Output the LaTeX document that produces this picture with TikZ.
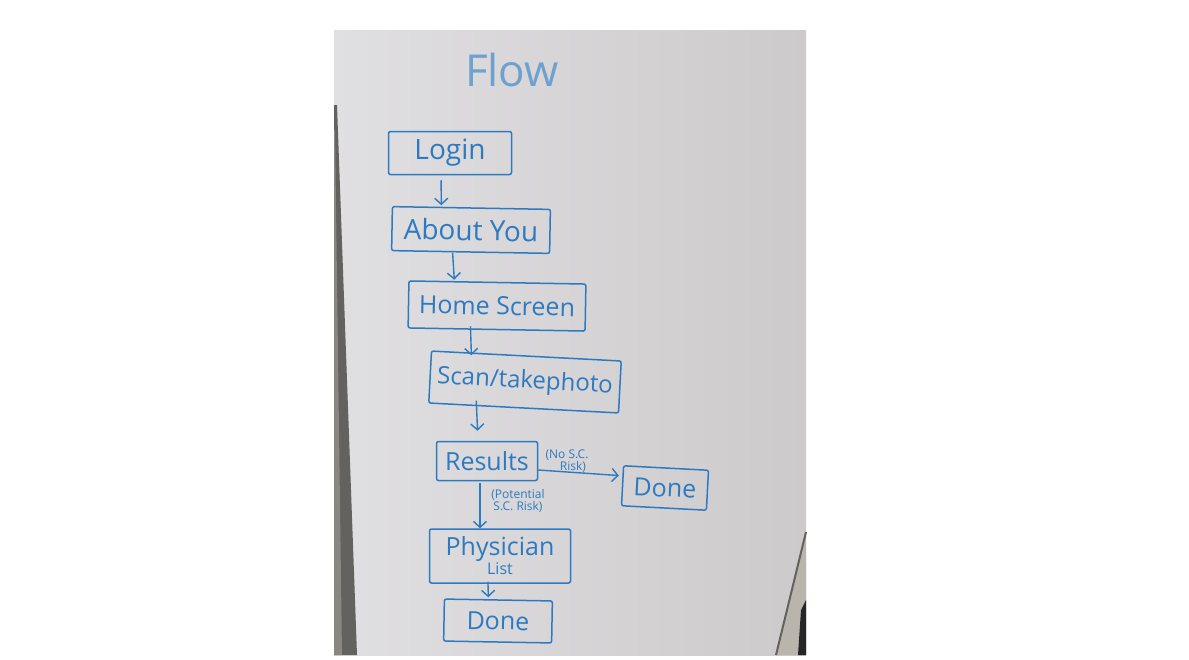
\documentclass[tikz,border=0pt]{standalone}
\usepackage{fontspec}
\setmainfont{Open Sans}
\usetikzlibrary{arrows.meta,calc}
\definecolor{marker}{RGB}{45,122,192}
\definecolor{markerlight}{RGB}{110,160,208}
\definecolor{boardL}{RGB}{224,223,225}
\definecolor{boardM}{RGB}{231,230,232}
\definecolor{boardR}{RGB}{205,202,203}
\definecolor{frameD}{RGB}{100,98,95}
\definecolor{frameM}{RGB}{138,135,131}
\definecolor{frameL}{RGB}{186,181,172}
\tikzset{
  stepbox/.style={draw=marker, line width=1.5pt, rounded corners=2pt,
    text=marker, font=\fontsize{25}{27}\selectfont, inner sep=2pt, align=center},
  bigtext/.style={font=\fontsize{28}{30}\selectfont},
  arr/.style={draw=marker, line width=1.4pt,
    -{Straight Barb[length=6pt,width=13pt,line width=1.4pt]}},
  edgelbl/.style={text=marker, font=\fontsize{12}{12}\selectfont, align=center, inner sep=0pt}
}
\begin{document}
\begin{tikzpicture}[x=1pt,y=-1pt]
\useasboundingbox (0,0) rectangle (1189,659);
% whiteboard photo
\shade[left color=boardL, middle color=boardM, right color=boardR] (334,30) rectangle (806,655);
\fill[frameD] (334,105) -- (337,105) -- (357,655) -- (334,655) -- cycle;
\fill[frameM] (334,130) -- (335,130) -- (342,655) -- (334,655) -- cycle;
\fill[frameL] (806,532) -- (776,655) -- (806,655) -- cycle;
\draw[frameD, line width=2pt] (806,532) -- (776,655);
\fill[black!85] (801,610) -- (806,600) -- (806,655) -- (798,655) -- cycle;

% title
\node[text=markerlight, font=\fontsize{44}{46}\selectfont] (title) at (512,70) {Flow};

% boxes
\node[stepbox, bigtext, minimum width=123pt, minimum height=43pt] (login) at (450,153) {Login};
\node[stepbox, bigtext, minimum width=158pt, minimum height=44pt, rotate=-1] (about) at (471,230) {About You};
\node[stepbox, minimum width=177pt, minimum height=47pt, rotate=-1] (home) at (497,306) {Home Screen};
\node[stepbox, font=\fontsize{24}{26}\selectfont, minimum width=190pt, minimum height=52pt, rotate=-3] (scan) at (525,382) {Scan/takephoto};
\node[stepbox, minimum width=101pt, minimum height=39pt] (results) at (487,461) {Results};
\node[stepbox, minimum width=85pt, minimum height=40pt, rotate=-3] (done1) at (665,488) {Done};
\node[stepbox, minimum width=141pt, minimum height=54pt] (phys) at (500,556)
  {Physician\\[-8pt]{\fontsize{16}{17}\selectfont List}};
\node[stepbox, minimum width=108pt, minimum height=42pt, rotate=-1] (done2) at (498,621) {Done};

% connectors
\draw[arr, shorten <=5pt, shorten >=2pt] ([xshift=-9pt]login.south) -- ([xshift=-30pt]about.north);
\draw[arr, shorten <=0pt, shorten >=2pt] ([xshift=-18pt]about.south) -- ([xshift=-43pt]home.north);
\draw[arr, shorten <=-4pt, shorten >=0pt] ([xshift=-26pt]home.south) -- ([xshift=-55pt]scan.north);
\draw[arr, shorten <=-8pt, shorten >=10pt] ([xshift=-47pt]scan.south) -- ([xshift=-9pt]results.north);
\draw[arr, shorten <=0pt, shorten >=3pt] ([yshift=-9pt]results.east) -- ([yshift=10pt]done1.west);
\draw[arr, shorten <=2pt, shorten >=0pt] ([xshift=-7pt]results.south) -- ([xshift=-20pt]phys.north);
\draw[arr, shorten <=-2pt, shorten >=2pt] ([xshift=-12pt]phys.south) -- ([xshift=-10pt]done2.north);

% connector labels
\node[edgelbl] (lblno) at (567,461) {(No S.C.\\\hspace*{12pt}Risk)};
\node[edgelbl] (lblpot) at (518,501) {(Potential\\S.C. Risk)};
\end{tikzpicture}
\end{document}
